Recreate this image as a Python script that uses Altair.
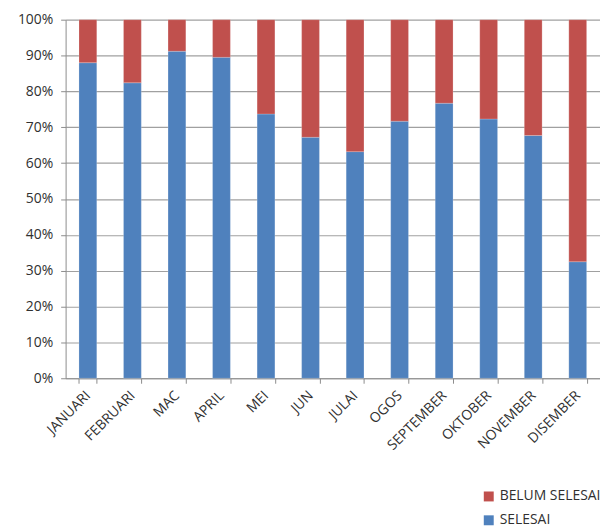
import altair as alt
import pandas as pd

months = ["JANUARI", "FEBRUARI", "MAC", "APRIL", "MEI", "JUN", "JULAI",
          "OGOS", "SEPTEMBER", "OKTOBER", "NOVEMBER", "DISEMBER"]
selesai = [88.0, 82.4, 91.2, 89.5, 73.7, 67.2, 63.2, 71.7, 76.7, 72.3, 67.7, 32.5]
belum = [12.0, 17.6, 8.8, 10.5, 26.3, 32.8, 36.8, 28.3, 23.3, 27.7, 32.3, 67.5]
series = ["BELUM SELESAI", "SELESAI"]
colors = ["#c0504d", "#4f81bd"]

rows = []
for m, s, b in zip(months, selesai, belum):
    rows.append({"bulan": m, "status": "SELESAI", "nilai": s / 100, "ord": 0})
    rows.append({"bulan": m, "status": "BELUM SELESAI", "nilai": b / 100, "ord": 1})
df = pd.DataFrame(rows)

font = "Open Sans"

chart = alt.Chart(df).mark_bar(stroke="#ffffff", strokeOpacity=0.35, strokeWidth=0.6).encode(
    x=alt.X("bulan:N", sort=months, title=None,
            scale=alt.Scale(paddingInner=0.6, paddingOuter=0.3),
            axis=alt.Axis(labelAngle=-45, labelAlign="right", labelBaseline="middle",
                          tickBand="extent", tickSize=5, tickColor="#8c8c8c",
                          domainColor="#8c8c8c", labelPadding=10,
                          labelFont=font, labelFontSize=14, labelColor="#303030")),
    y=alt.Y("nilai:Q", stack="zero", title=None,
            scale=alt.Scale(domain=[0, 1]),
            axis=alt.Axis(format="%", values=[i / 10 for i in range(11)],
                          grid=True, gridColor="#a0a0a0", gridWidth=1.2,
                          tickSize=5, tickColor="#8c8c8c", domainColor="#8c8c8c",
                          labelFont=font, labelFontSize=14, labelColor="#303030",
                          labelPadding=8)),
    color=alt.Color("status:N", scale=alt.Scale(domain=series, range=colors),
                    legend=alt.Legend(title=None, orient="none", legendX=419, legendY=473,
                                      symbolType="square", symbolSize=100,
                                      symbolStrokeWidth=0, rowPadding=10,
                                      labelFont=font, labelFontSize=14,
                                      labelColor="#303030", labelOffset=4)),
    order=alt.Order("ord:Q"),
).properties(
    width=538, height=361,
    autosize=alt.AutoSizeParams(type="none"),
    padding={"left": 58, "top": 10, "right": 0, "bottom": 150},
    background="#ffffff",
).configure_view(stroke=None, fill="#ffffff")

chart.save("out.html", embed_options={"renderer": "svg", "actions": False})
